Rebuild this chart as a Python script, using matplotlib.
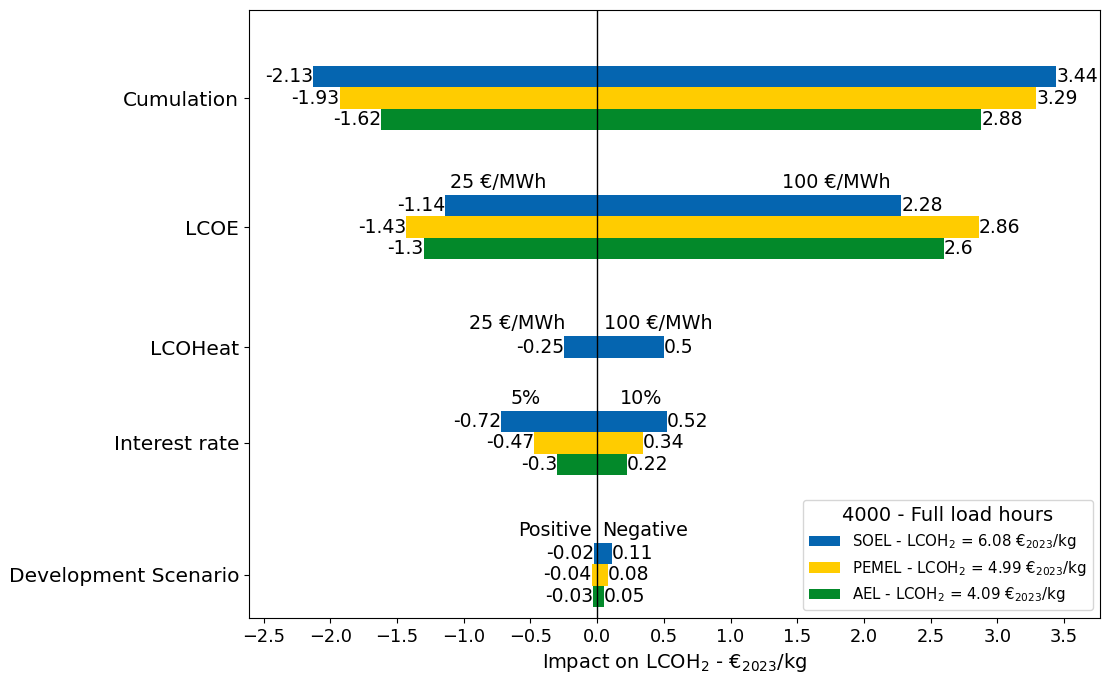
import matplotlib
matplotlib.use("Agg")
from matplotlib import pyplot as plt

# 类别
categories = ["Cumulation", "LCOE", "LCOHeat", "Interest rate", "Development Scenario"]
# 各技术的负/正影响 (None = 无数据)
soel_neg = [-2.13, -1.14, -0.25, -0.72, -0.02]
soel_pos = [3.44, 2.28, 0.5, 0.52, 0.11]
pemel_neg = [-1.93, -1.43, None, -0.47, -0.04]
pemel_pos = [3.29, 2.86, None, 0.34, 0.08]
ael_neg = [-1.62, -1.3, None, -0.3, -0.03]
ael_pos = [2.88, 2.6, None, 0.22, 0.05]

series_names = ["SOEL - LCOH$_2$ = 6.08 €$_{2023}$/kg",
                "PEMEL - LCOH$_2$ = 4.99 €$_{2023}$/kg",
                "AEL - LCOH$_2$ = 4.09 €$_{2023}$/kg"]
colors = ["#0565b0", "#ffcc00", "#03892a"]

# 区间说明文字 (类别序号, 左文字, 右文字)
range_labels = [(1, "25 €/MWh", "100 €/MWh"),
                (2, "25 €/MWh", "100 €/MWh"),
                (3, "5%", "10%"),
                (4, "Positive", "Negative")]
# 文字x位置 (左, 右)
range_label_x = [(-1.1, 2.2), (-0.24, 0.05), (-0.42, 0.17), (-0.04, 0.04)]
range_label_ha = [("left", "right"), ("right", "left"), ("right", "left"), ("right", "left")]

y_pos = [4.77, 3.48, 2.28, 1.32, 0.0]
h = 0.215

fig = plt.figure(figsize=(11.04, 6.79), dpi=100)
ax = fig.add_axes([0.2255, 0.09, 0.771, 0.895])

data = [(soel_neg, soel_pos), (pemel_neg, pemel_pos), (ael_neg, ael_pos)]
offsets = [h, 0, -h]
for k, (neg, pos) in enumerate(data):
    first = True
    for i, y in enumerate(y_pos):
        if neg[i] is None:
            continue
        yy = y + offsets[k]
        if i == 2:  # LCOHeat 只有 SOEL, 居中
            yy = y
        ax.barh(yy, neg[i], height=h, color=colors[k], label=series_names[k] if first else None)
        ax.barh(yy, pos[i], height=h, color=colors[k])
        first = False
        ax.text(neg[i], yy, str(neg[i]), ha="right", va="center", fontsize=13.5)
        ax.text(pos[i], yy, str(pos[i]), ha="left", va="center", fontsize=13.5)

for (i, lt, rt), (xl, xr), (hl, hr) in zip(range_labels, range_label_x, range_label_ha):
    top = y_pos[i] + h / 2 + (h if i != 2 else 0) + 0.03
    ax.text(xl, top, lt, ha=hl, va="bottom", fontsize=13.8)
    ax.text(xr, top, rt, ha=hr, va="bottom", fontsize=13.8)

ax.axvline(0, color="black", linewidth=1)
ax.set_xlim(-2.61, 3.77)
ax.set_ylim(-0.43, 5.65)
ax.set_yticks(y_pos)
ax.set_yticklabels(categories, fontsize=14.5)
ax.set_xticks([-2.5, -2.0, -1.5, -1.0, -0.5, 0.0, 0.5, 1.0, 1.5, 2.0, 2.5, 3.0, 3.5])
ax.tick_params(axis="x", labelsize=12.8)
ax.set_xlabel("Impact on LCOH$_2$ - €$_{2023}$/kg", fontsize=14)

leg = ax.legend(loc="lower right", title="4000 - Full load hours", fontsize=10.8,
                title_fontsize=14, handlelength=2.1, borderaxespad=0.5)

plt.savefig("out.png", dpi=100)
